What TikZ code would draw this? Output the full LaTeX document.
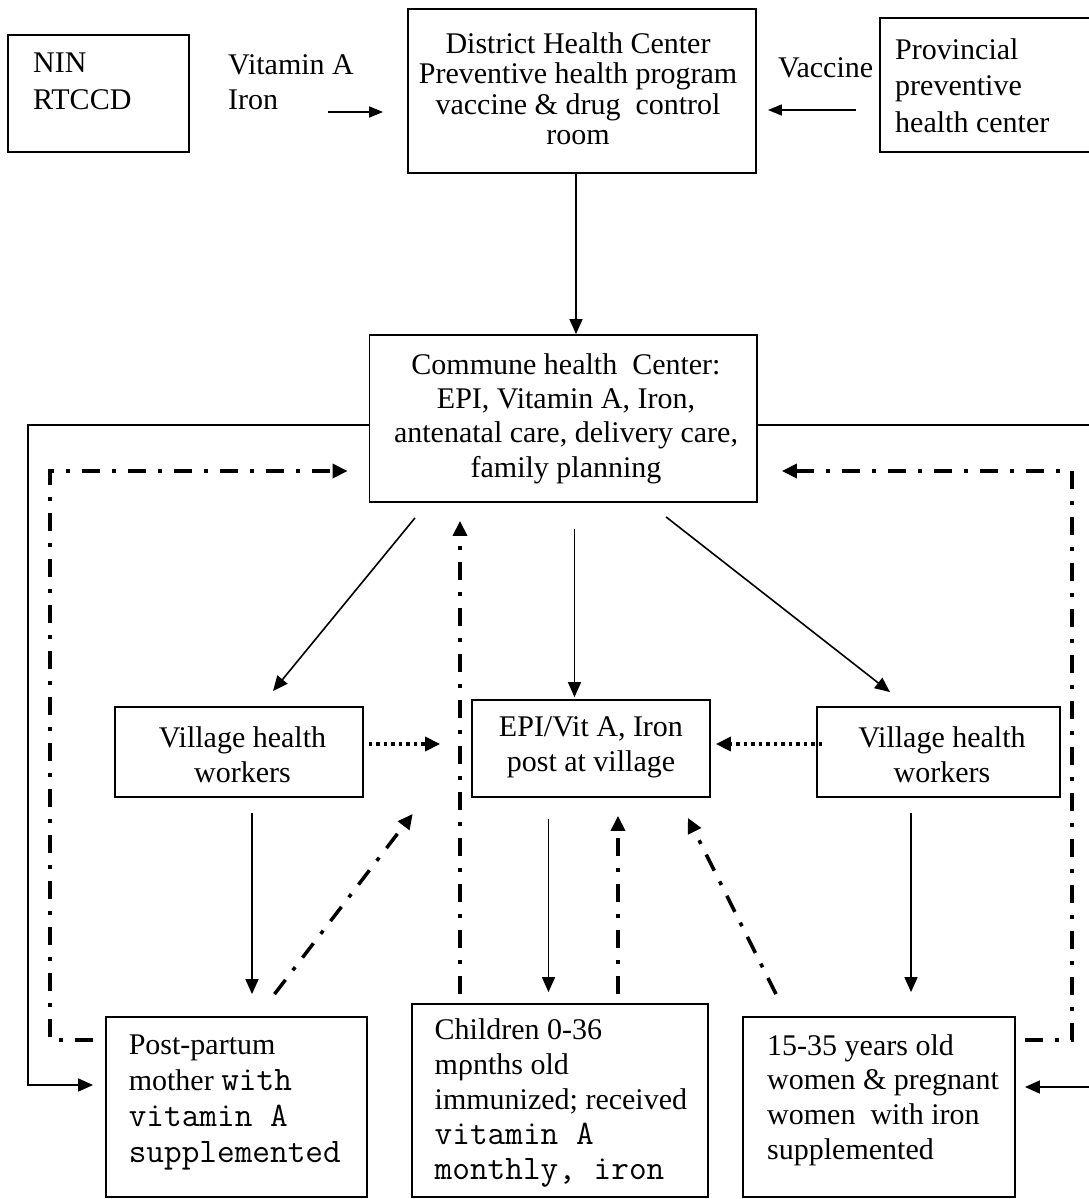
\documentclass[tikz,border=0pt]{standalone}
\usepackage{fontspec}
\setmainfont{Liberation Serif}
\usetikzlibrary{arrows.meta,calc}
\newcommand{\cn}[1]{{\ttfamily\fontsize{34.3}{36}\selectfont #1}}
\begin{document}
\begin{tikzpicture}[x=1pt,y=-1pt,
  box/.style={draw, line width=1.8pt, rectangle, inner sep=0pt},
  txt/.style={inner sep=0pt, align=left, font=\fontsize{30}{#1}\selectfont},
  txtc/.style={inner sep=0pt, align=center, font=\fontsize{30}{#1}\selectfont},
  arr/.style={line width=1.6pt, -{Triangle[length=15pt,width=13pt]}},
  thinarr/.style={line width=1.4pt, -{Triangle[length=14pt,width=11pt]}},
  dd/.style={line width=3.5pt, dash pattern=on 18pt off 12pt on 4pt off 12pt, -{Triangle[length=15pt,width=14pt]}},
  dt/.style={line width=3.5pt, dash pattern=on 3.5pt off 4pt, -{Triangle[length=15pt,width=14pt]}}
]
\useasboundingbox (0,0) rectangle (1089,1199);

% boxes
\node[box, minimum width=181pt, minimum height=117pt] (nin) at (98.5,93.5) {};
\node[box, minimum width=348pt, minimum height=164pt] (dist) at (582,91) {};
\node[box, minimum width=230pt, minimum height=134pt] (prov) at (995,85) {};
\node[box, minimum width=387.5pt, minimum height=167pt] (comm) at (563.25,418.5) {};
\node[box, minimum width=248pt, minimum height=90pt] (vl) at (239,752) {};
\node[box, minimum width=238pt, minimum height=97pt] (epi) at (591,748.5) {};
\node[box, minimum width=243pt, minimum height=90pt] (vr) at (938.5,752) {};
\node[box, minimum width=261pt, minimum height=180pt] (pp) at (236.5,1107) {};
\node[box, minimum width=296pt, minimum height=193pt] (ch) at (560,1100.5) {};
\node[box, minimum width=272pt, minimum height=180pt] (w) at (879,1107) {};

% texts
\node[txt=37, anchor=west] (nint) at (33,81.5) {NIN\\RTCCD};
\node[txt=35, anchor=west] (vit) at (228,82.5) {Vitamin A\\Iron};
\node[txtc=30.5] (distt) at (578,88.5) {District Health Center\\Preventive health program\\vaccine \& drug\ \ control\\room};
\node[txt=30, anchor=west] (vac) at (778,68) {Vaccine};
\node[txt=36.5, anchor=west] (provt) at (895,85.5) {Provincial\\preventive\\health center};
\node[txtc=34.3] (commt) at (566,418.5) {Commune health\ \ Center:\\EPI, Vitamin A, Iron,\\antenatal care, delivery care,\\family planning};
\node[txtc=35] (vlt) at (242.5,754.5) {Village health\\workers};
\node[txtc=35] (epit) at (591,747.5) {EPI/Vit A, Iron\\post at village};
\node[txtc=35] (vrt) at (942,754.5) {Village health\\workers};
\node[txt=36.3, anchor=west] (ppt) at (128.6,1102.5) {Post-partum\\mother \cn{with}\\\cn{vitamin A}\\\cn{supplemented}};
\node[txt=35, anchor=west] (cht) at (434.5,1103) {Children 0-36\\mρnths old\\immunized; received\\\cn{vitamin A}\\\cn{monthly, iron}};
\node[txt=34.7, anchor=west] (wt) at (767,1100) {15-35 years old\\women \& pregnant\\women\ \ with iron\\supplemented};

% coordinates for free ends
\coordinate (vaS) at (328,112);
\coordinate (vcY) at (0,110);
\coordinate (dlc) at (50,471);
\coordinate (drc) at (1072,471);
\coordinate (dyb) at (0,1040);
\coordinate (slc) at (28,425);
\coordinate (src) at (1095,425);
\coordinate (slb) at (0,1085);
\coordinate (srb) at (0,1087);

% top arrows
\draw[thinarr, shorten >=24pt] (vaS) -- (dist.west |- vaS);
\draw[thinarr, shorten <=23pt, shorten >=11pt] (prov.west |- vcY) -- (dist.east |- vcY);
\draw[arr] ([xshift=-6pt]dist.south) -- ([xshift=12.75pt]comm.north);

% commune to village level
\draw[arr] ([xshift=-148.25pt,yshift=-15pt]comm.south) -- ([xshift=34pt,yshift=15pt]vl.north);
\draw[arr] ([xshift=11.25pt,yshift=-26pt]comm.south) -- ([xshift=-16.5pt,yshift=2pt]epi.north);
\draw[arr] ([xshift=102.75pt,yshift=-14pt]comm.south) -- ([xshift=-48.5pt,yshift=14pt]vr.north);

% dotted
\draw[dt] ([xshift=5pt,yshift=8pt]vl.east) -- ([xshift=-31pt,yshift=4.5pt]epi.west);
\draw[dt] ([xshift=6pt,yshift=8pt]vr.west) -- ([xshift=5pt,yshift=4.5pt]epi.east);

% village to target groups
\draw[arr] ([xshift=13pt,yshift=-15pt]vl.south) -- ([xshift=15.5pt,yshift=22pt]pp.north);
\draw[arr] ([xshift=-42.5pt,yshift=-21pt]epi.south) -- ([xshift=-11.5pt,yshift=11pt]ch.north);
\draw[arr] ([xshift=-27.5pt,yshift=-15pt]vr.south) -- ([xshift=32pt,yshift=24pt]w.north);

% dash-dot feedback
\draw[dd] ([xshift=38pt,yshift=22pt]pp.north) -- ([xshift=-58.4pt,yshift=-16pt]epi.south west);
\draw[dd] ([xshift=-100pt,yshift=9pt]ch.north) -- ([xshift=-103.25pt,yshift=-18pt]comm.south);
\draw[dd] ([xshift=58pt,yshift=9pt]ch.north) -- ([xshift=27pt,yshift=-18pt]epi.south);
\draw[dd] ([xshift=-103pt,yshift=22pt]w.north) -- ([xshift=-23pt,yshift=-20pt]epi.south east);
\draw[dd, shorten <=12pt, shorten >=21pt] (pp.west |- dyb) -| (dlc) -- (comm.west |- dlc);
\draw[dd, shorten <=9pt, shorten >=24pt] (w.east |- dyb) -| (drc) -- (comm.east |- drc);

% solid outer loops
\draw[arr] (comm.west |- slc) -- (slc) |- ([xshift=-12pt]pp.west |- slb);
\draw[arr] (comm.east |- src) -- (src) |- ([xshift=9pt]w.east |- srb);
\end{tikzpicture}
\end{document}
